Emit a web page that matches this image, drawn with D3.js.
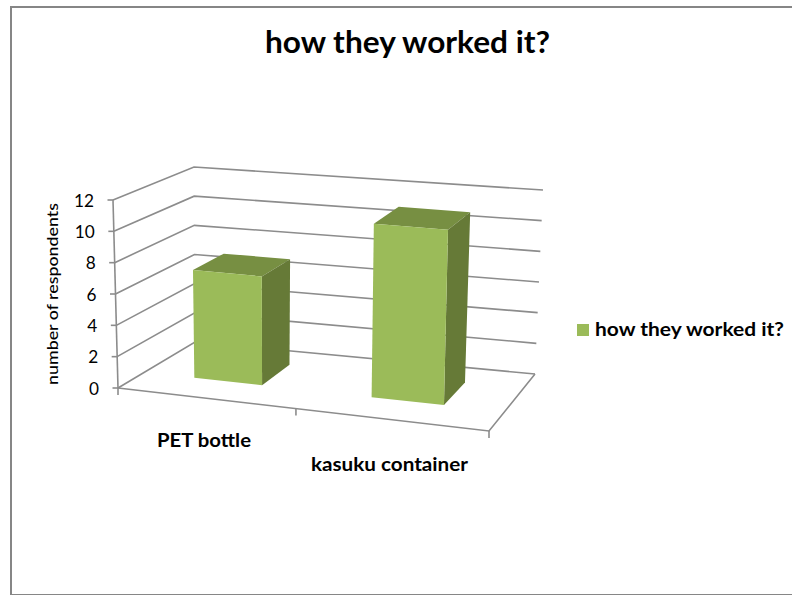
<!DOCTYPE html>
<html><head><meta charset="utf-8">
<script src="https://cdn.jsdelivr.net/npm/d3@7"></script>
<style>html,body{margin:0;padding:0;background:#fff}svg{display:block}text{font-family:Lato,"Open Sans",sans-serif;fill:#000}</style>
</head><body>
<svg id="c" width="792" height="595"></svg>
<script>
const title = "how they worked it?";
const categories = ["PET bottle", "kasuku container"];
const seriesName = "how they worked it?";
const values = [7, 11];
const yTicks = [0, 2, 4, 6, 8, 10, 12];
const yAxisLabel = "number of respondents";

const W = 792, H = 595;
const svg = d3.select("#c");

// projected corners of the 3D plot box
const box = {
  flb:[118,388], frb:[489,431], blb:[195,342], brb:[535,374],
  flt:[113,200], frt:[494,234], blt:[194,167], brt:[543,190]
};
const xScale = d3.scaleBand().domain(categories).range([0.006,0.99]).paddingInner(0.608).paddingOuter(0.304);
const warp = d3.scalePow().exponent(1.06).domain([0,1]).range([0,1]); // perspective along the category axis
const yScale = d3.scaleLinear().domain([0,12]).range([0,1]);
const zNear = 0.34, zFar = 0.75;
const lerp = (a,b,t)=>[a[0]+(b[0]-a[0])*t, a[1]+(b[1]-a[1])*t];
function project(x,val,v){
  const u = warp(x), t = yScale(val);
  const f = lerp(lerp(box.flb,box.frb,u), lerp(box.flt,box.frt,u), t);
  const b = lerp(lerp(box.blb,box.brb,u), lerp(box.blt,box.brt,u), t);
  return lerp(f,b,v);
}
const line = d3.line();

// frame
svg.append("rect").attr("x",11).attr("y",7).attr("width",W+20).attr("height",588)
  .attr("fill","#fff").attr("stroke","#868686").attr("stroke-width",2);

// title
svg.append("text").attr("x",407.5).attr("y",53).attr("text-anchor","middle")
  .attr("font-size",31).attr("font-weight",700)
  .attr("textLength",285).attr("lengthAdjust","spacingAndGlyphs").text(title);

// gridlines: left wall and back wall
const grid = svg.append("g").attr("fill","none").attr("stroke","#8c8c8c").attr("stroke-width",1.6);
yTicks.forEach(d=>{
  grid.append("path").attr("d",line([project(0,d,0),project(0,d,1),project(1,d,1)]));
});
// floor edges and axis lines
const axis = svg.append("g").attr("fill","none").attr("stroke","#8c8c8c").attr("stroke-width",1.6);
axis.append("path").attr("d",line([project(0,0,0),project(1,0,0),project(1,0,1)]));
axis.append("path").attr("d",line([project(0,0,0),project(0,12,0)]));
yTicks.forEach(d=>{
  const p = project(0,d,0);
  axis.append("path").attr("d",line([[p[0]-5.5,p[1]],p]));
  svg.append("text").attr("x",p[0]-19).attr("y",p[1]+6.5).attr("text-anchor","end").attr("font-size",17)
    .attr("textLength",d>=10?20:10).attr("lengthAdjust","spacingAndGlyphs").text(d);
});
[0,0.5,1].forEach(u=>{
  const p = project(u,0,0);
  axis.append("path").attr("d",line([p,[p[0],p[1]+7]]));
});

// bars
const barG = svg.append("g");
categories.forEach((c,i)=>{
  const u0 = xScale(c), u1 = u0 + xScale.bandwidth(), val = values[i];
  const P = project;
  barG.append("path").attr("fill","#778f42").attr("d",line([P(u0,val,zNear),P(u1,val,zNear),P(u1,val,zFar),P(u0,val,zFar)])+"Z");
  barG.append("path").attr("fill","#667a37").attr("d",line([P(u1,0,zNear),P(u1,0,zFar),P(u1,val,zFar),P(u1,val,zNear)])+"Z");
  barG.append("path").attr("fill","#9bbb59").attr("d",line([P(u0,0,zNear),P(u1,0,zNear),P(u1,val,zNear),P(u0,val,zNear)])+"Z");
});

// labels
svg.append("text").attr("x",204).attr("y",447).attr("text-anchor","middle").attr("font-size",18).attr("font-weight",700)
  .attr("textLength",94).attr("lengthAdjust","spacingAndGlyphs").text(categories[0]);
svg.append("text").attr("x",389.5).attr("y",471).attr("text-anchor","middle").attr("font-size",18).attr("font-weight",700)
  .attr("textLength",157).attr("lengthAdjust","spacingAndGlyphs").text(categories[1]);
svg.append("text").attr("transform","translate(58,294) rotate(-90)").attr("text-anchor","middle").attr("font-size",16).attr("font-weight",500)
  .attr("textLength",182).attr("lengthAdjust","spacingAndGlyphs").text(yAxisLabel);

// legend
svg.append("rect").attr("x",577).attr("y",324).attr("width",12).attr("height",12).attr("fill","#9bbb59");
svg.append("text").attr("x",595).attr("y",336).attr("font-size",18).attr("font-weight",700)
  .attr("textLength",189).attr("lengthAdjust","spacingAndGlyphs").text(seriesName);
</script>
</body></html>
